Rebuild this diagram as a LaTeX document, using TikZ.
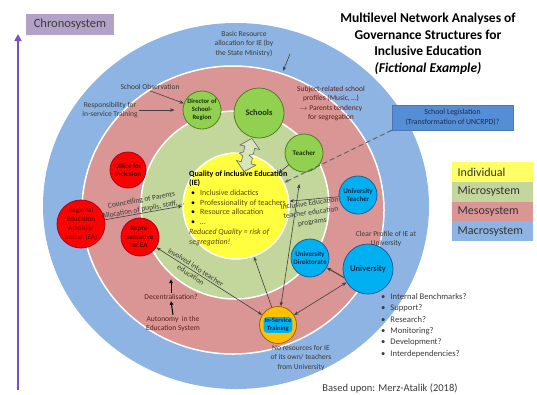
\documentclass[tikz,border=0pt]{standalone}
\usepackage{fontspec}
\setmainfont{Carlito}
\usetikzlibrary{arrows.meta}
\definecolor{macroblue}{HTML}{8DB4E2}
\definecolor{mesored}{HTML}{D99694}
\definecolor{microgreen}{HTML}{C3D69B}
\definecolor{indivyellow}{HTML}{FFFF40}
\definecolor{legendyellow}{HTML}{FFFF66}
\definecolor{chronofill}{HTML}{B3A2C7}
\definecolor{chronoline}{HTML}{7B4FBF}
\definecolor{legisfill}{HTML}{558ED5}
\definecolor{legistext}{HTML}{14305A}
\definecolor{greenfill}{HTML}{92D050}
\definecolor{greenline}{HTML}{4F7F24}
\definecolor{greentext}{HTML}{1C330C}
\definecolor{bluefill}{HTML}{00B0F0}
\definecolor{blueline}{HTML}{1F5C99}
\definecolor{bluetext}{HTML}{0B2A4F}
\definecolor{redfill}{HTML}{FF0000}
\definecolor{redline}{HTML}{A50021}
\definecolor{redtext}{HTML}{4A0000}
\definecolor{orangefill}{HTML}{FFC000}
\definecolor{orangeline}{HTML}{9C6500}
\definecolor{bridgefill}{HTML}{D8E4BC}
\definecolor{txtgray}{HTML}{3A3A3A}
\definecolor{txtred}{HTML}{5C1F1D}
\definecolor{txtolive}{HTML}{5E4B00}
\def\checks{Internal Benchmarks?,Support?,Research?,Monitoring?,Development?,Interdependencies?}
\def\qitem#1{\hspace*{2pt}\textbullet\hspace{5pt}{\color{txtolive}#1}}

\begin{document}
\begin{tikzpicture}[x=1pt,y=-1pt,
  note/.style={font=\fontsize{7.5}{9.3}\selectfont,text=txtgray,align=center,inner sep=1pt},
  rednote/.style={note,text=txtred},
  ball/.style={circle,line width=0.8pt,align=center,inner sep=0pt,font=\bfseries\fontsize{7}{8.6}\selectfont},
  greenball/.style={ball,draw=greenline,fill=greenfill,text=greentext},
  blueball/.style={ball,draw=blueline,fill=bluefill,text=bluetext},
  redball/.style={ball,draw=redline,fill=redfill,text=redtext},
  link/.style={draw=black!75,line width=0.6pt,-{Stealth[length=4.5pt,width=3.5pt]}},
  twoway/.style={link,{Stealth[length=4.5pt,width=3.5pt]}-{Stealth[length=4.5pt,width=3.5pt]}},
  thickup/.style={draw=black,line width=1pt,-{Latex[length=4pt,width=4pt]}},
  legendrow/.style={anchor=north west,minimum width=81pt,minimum height=19.75pt,text width=70pt,inner xsep=5.5pt,inner ysep=0pt,align=left,text=black!80,font=\fontsize{12}{14}\selectfont},
  checkitem/.style={anchor=west,inner sep=0pt,text=txtgray,font=\fontsize{8.6}{10}\selectfont}]
  \useasboundingbox (0,0) rectangle (537,394);

  \fill[macroblue] (236,206) ellipse [x radius=193pt,y radius=183pt];
  \filldraw[fill=mesored,draw=white,line width=1.5pt] (233,210) ellipse [x radius=151pt,y radius=144pt];
  \filldraw[fill=microgreen,draw=white,line width=1.5pt] (235,205) circle [radius=94pt];
  \node[circle,fill=indivyellow,draw=white,line width=1.5pt,minimum size=106pt,inner sep=0pt] (quality) at (236,206) {};
  \node[anchor=west,align=left,inner sep=0pt,font=\fontsize{8}{9.7}\selectfont] (qualitytext) at (189,208)
    {\textbf{Quality of inclusive Education}\\\textbf{(IE)}\\\qitem{Inclusive didactics}\\\qitem{Professionality of teachers}\\\qitem{Resource allocation}\\\qitem{\dots}\\{\color{txtolive}\textit{Reduced Quality = risk of}}\\{\color{txtolive}\textit{segregation!}}};

  \node[fill=chronofill,minimum width=88pt,minimum height=21pt,inner sep=0pt,text=txtgray,font=\fontsize{12.5}{14}\selectfont] (chrono) at (70,24.5) {Chronosystem};
  \coordinate (timestart) at (18,390);
  \coordinate (timeend) at (18,34);
  \draw[chronoline,line width=1.8pt,-{Triangle[length=7pt,width=7pt]}] (timestart) -- (timeend);

  \node[align=center,font=\bfseries\fontsize{13.5}{16.5}\selectfont] (title) at (428,44)
    {Multilevel Network Analyses of\\Governance Structures for\\Inclusive Education\\\textit{(Fictional Example)}};

  \node[greenball,minimum size=38pt,font=\bfseries\fontsize{6.6}{8}\selectfont] (director) at (202,110) {Director of\\School-\\Region};
  \node[greenball,minimum size=50pt,font=\bfseries\fontsize{8.5}{10}\selectfont] (schools) at (259,113) {Schools};
  \node[greenball,minimum size=38pt] (teacher) at (304,153) {Teacher};
  \node[blueball,minimum size=38pt] (uniteacher) at (358,195) {University\\Teacher};
  \node[blueball,minimum size=38pt] (unidir) at (310,258) {University\\Direktorate};
  \node[blueball,minimum size=50pt,font=\bfseries\fontsize{8.5}{10}\selectfont] (uni) at (368,269) {University};
  \node[redball,minimum size=36pt] (office) at (128,170) {Office for\\Inclusion};
  \node[redball,minimum size=48pt,font=\fontsize{7}{8.8}\selectfont] (regional) at (81,224) {Regional\\Education\\Adminis-\\tration (EA)};
  \node[redball,minimum size=38pt] (repre) at (140,237) {Repre-\\sentative\\of EA};
  \node[circle,draw=orangeline,fill=orangefill,line width=0.8pt,minimum size=37pt] (training) at (278,325) {};
  \node[fill=bluefill,rounded corners=4pt,inner sep=1.2pt,align=center,text=bluetext,font=\bfseries\fontsize{6.5}{7.8}\selectfont] (trainingtext) at (training) {In-Service\\Training};

  \draw[draw=black!60,fill=bridgefill,line width=0.6pt,shift={(248,155)},rotate=-13]
    (0,-17) -- (10,-8) -- (5,-8) -- (5,-2) -- (1,0) -- (5,2) -- (5,8) -- (10,8) -- (0,17)
    -- (-10,8) -- (-5,8) -- (-5,2) -- (-9,0) -- (-5,-2) -- (-5,-8) -- (-10,-8) -- cycle;

  \node[note] (basic) at (244,44) {Basic Resource\\allocation for IE (by\\the State Ministry)};
  \coordinate (basicfrom) at (290,54);
  \coordinate (basicto) at (283,71);
  \node[note] (observation) at (150,87) {School Observation};
  \node[note] (responsible) at (110,110) {Responsibility for\\in-service Training};
  \node[rednote] (profiles) at (331,103.5) {Subject-related school\\profiles (Music, \dots)\\$\rightarrow$ Parents tendency\\for segregation};
  \node[font=\fontsize{7.8}{9.6}\selectfont,fill=legisfill,draw=legisfill!85!black,line width=0.4pt,minimum width=121pt,minimum height=25pt,align=center,text=legistext] (legis) at (452.5,117.5) {School Legislation\\(Transformation of UNCRPD)?};
  \node[note,rotate=8] (progs) at (311,213) {Inclusive Education\\teacher education\\programs};
  \node[note] (clear) at (386,239) {Clear Profile of IE at\\University};
  \node[note] (nores) at (301,358) {No resources for IE\\of its own/ teachers\\from University};
  \node[rednote] (decent) at (171,297) {Decentralisation?};
  \node[rednote] (autonomy) at (173,324) {Autonomy\ \ in the\\Education System};
  \coordinate (decentup) at (171,279);

  \draw[link] (observation.south) -- (director);
  \draw[link,shorten >=8pt] (responsible.east) -- (director);
  \draw[link] (basicfrom) -- (basicto);
  \draw[link] (regional.10) -- node[note,sloped,above,inner sep=0pt] {Councelling of Parents\\Allocation of pupils, staff, \dots} (quality.west);
  \draw[link] (teacher) -- (quality);
  \draw[link,dashed,dash pattern=on 5pt off 3pt,line width=1pt,draw=black!60] (legis.south west) -- (quality);
  \draw[link] (uniteacher) -- (quality);
  \draw[link] (training) -- (quality);
  \draw[twoway,shorten <=12pt] (teacher) -- (training);
  \draw[twoway] (repre) -- node[note,sloped,pos=0.35] {Involved into teacher\\education} (training);
  \draw[twoway] (training) -- (uni);
  \draw[link,line width=1pt] (uni.200) -- (unidir);
  \draw[thickup] (autonomy.north) -- (decent.south);
  \draw[thickup] (decent.north) -- (decentup);

  \foreach \t/\c [count=\i] in {Individual/legendyellow,Microsystem/microgreen,Mesosystem/mesored,Macrosystem/macroblue}{
    \node[legendrow,fill=\c] (level\i) at (452,{162+19.75*(\i-1)}) {\t};
  }
  \foreach \t [count=\i] in \checks{
    \node[checkitem] (check\i) at (381,{297+11.4*(\i-1)}) {\textbullet\hspace{5pt}\t};
  }
  \node[text=txtgray,font=\fontsize{10.5}{12}\selectfont] (source) at (390,388) {Based upon: Merz-Atalik (2018)};
\end{tikzpicture}
\end{document}
